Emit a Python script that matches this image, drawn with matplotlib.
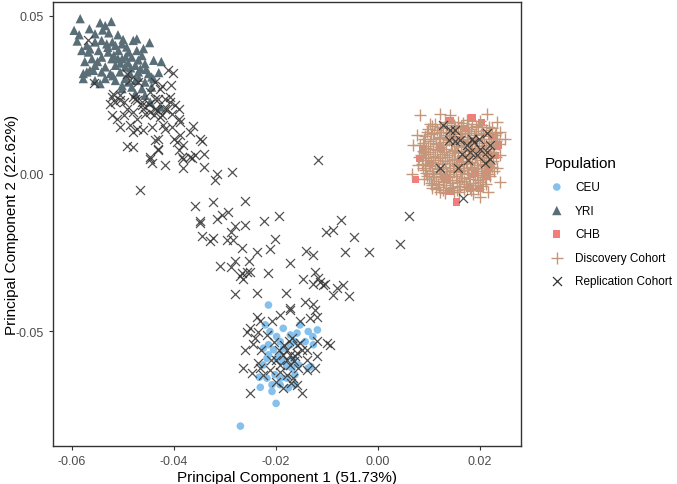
import matplotlib
matplotlib.use("Agg")
import matplotlib.pyplot as plt
import numpy as np

plt.rcParams['font.family'] = ['Liberation Sans', 'DejaVu Sans']

# PCA coordinates (PC1, PC2)
ceu_x = [-0.0215, -0.0153, -0.0137, -0.0119, -0.0128, -0.0127, -0.0143, -0.0159, -0.0172,
         -0.0221, -0.0212, -0.0199, -0.0186, -0.0192, -0.0215, -0.0225, -0.0205, -0.0186,
         -0.0172, -0.0163, -0.0218, -0.0199, -0.0186, -0.0166, -0.0156, -0.0137, -0.0132,
         -0.0233, -0.0218, -0.0202, -0.0192, -0.0179, -0.0163, -0.0163, -0.0176, -0.0192,
         -0.0208, -0.0231, -0.0208, -0.0200, -0.0270, -0.0225, -0.0215, -0.0192, -0.0179,
         -0.0169]
ceu_y = [-0.0417, -0.0480, -0.0501, -0.0496, -0.0517, -0.0543, -0.0533, -0.0506, -0.0512,
         -0.0480, -0.0501, -0.0517, -0.0491, -0.0533, -0.0543, -0.0554, -0.0559, -0.0554,
         -0.0543, -0.0533, -0.0586, -0.0586, -0.0596, -0.0591, -0.0607, -0.0617, -0.0612,
         -0.0646, -0.0649, -0.0638, -0.0649, -0.0649, -0.0638, -0.0670, -0.0680, -0.0670,
         -0.0670, -0.0678, -0.0691, -0.0729, -0.0801, -0.0607, -0.0575, -0.0575, -0.0612,
         -0.0617]

yri_x = [-0.0584, -0.0596, -0.0586, -0.0545, -0.0535, -0.0523, -0.0566, -0.0555, -0.0528,
         -0.0521, -0.0480, -0.0448, -0.0571, -0.0555, -0.0542, -0.0532, -0.0515, -0.0502,
         -0.0493, -0.0581, -0.0568, -0.0548, -0.0529, -0.0509, -0.0489, -0.0473, -0.0460,
         -0.0561, -0.0542, -0.0522, -0.0502, -0.0483, -0.0463, -0.0440, -0.0425, -0.0555,
         -0.0535, -0.0515, -0.0496, -0.0476, -0.0457, -0.0571, -0.0558, -0.0542, -0.0525,
         -0.0506, -0.0486, -0.0470, -0.0450, -0.0578, -0.0555, -0.0535, -0.0515, -0.0496,
         -0.0476, -0.0457, -0.0444, -0.0502, -0.0483, -0.0463, -0.0444, -0.0476, -0.0457,
         -0.0447, -0.0427, -0.0578, -0.0565, -0.0545, -0.0473, -0.0502, -0.0510, -0.0490,
         -0.0466, -0.0590, -0.0575, -0.0565, -0.0550, -0.0530, -0.0518, -0.0505, -0.0495,
         -0.0485, -0.0470, -0.0455, -0.0440, -0.0430, -0.0520, -0.0490, -0.0470, -0.0540,
         -0.0510, -0.0500]
yri_y = [0.0491, 0.0454, 0.0440, 0.0478, 0.0469, 0.0482, 0.0459, 0.0443, 0.0446,
         0.0417, 0.0422, 0.0415, 0.0406, 0.0417, 0.0422, 0.0411, 0.0406, 0.0411,
         0.0401, 0.0390, 0.0385, 0.0390, 0.0385, 0.0390, 0.0385, 0.0390, 0.0396,
         0.0364, 0.0369, 0.0364, 0.0364, 0.0369, 0.0374, 0.0359, 0.0355, 0.0343,
         0.0338, 0.0343, 0.0338, 0.0343, 0.0348, 0.0322, 0.0327, 0.0322, 0.0317,
         0.0322, 0.0317, 0.0322, 0.0317, 0.0301, 0.0295, 0.0301, 0.0295, 0.0301,
         0.0295, 0.0290, 0.0306, 0.0279, 0.0274, 0.0269, 0.0274, 0.0253, 0.0248,
         0.0227, 0.0211, 0.0317, 0.0327, 0.0285, 0.0427, 0.0269, 0.0364, 0.0351,
         0.0332, 0.0420, 0.0355, 0.0395, 0.0355, 0.0400, 0.0375, 0.0350, 0.0370,
         0.0335, 0.0360, 0.0330, 0.0300, 0.0320, 0.0310, 0.0290, 0.0305, 0.0455,
         0.0440, 0.0425]

chb_x = [0.0184, 0.0203, 0.0141, 0.0223, 0.0236, 0.0088, 0.0082, 0.0073, 0.0141, 0.0154,
         0.0180, 0.0214, 0.0216, 0.0229, 0.0122, 0.0161, 0.0190, 0.0131, 0.0102, 0.0171,
         0.0200]
chb_y = [0.0176, 0.0161, 0.0169, 0.0121, 0.0090, 0.0074, 0.0047, -0.0018, -0.0058, -0.0090,
         -0.0047, -0.0005, 0.0021, 0.0058, 0.0079, 0.0047, 0.0000, -0.0016, 0.0032, 0.0142,
         -0.0047]

disc_x = [0.0082, 0.0101, 0.0122, 0.0141, 0.0157, 0.0174, 0.0213, 0.0233, 0.0239, 0.0249,
          0.0239, 0.0233, 0.0239, 0.0216, 0.0200, 0.0180, 0.0148, 0.0122, 0.0105, 0.0089,
          0.0066, 0.0079, 0.0089, 0.0069, 0.0076,
          0.0112, 0.0131, 0.0148, 0.0166, 0.0185, 0.0199,
          0.0098, 0.0115, 0.0128, 0.0142, 0.0157, 0.0170, 0.0183, 0.0196, 0.0211, 0.0224,
          0.0091, 0.0104, 0.0119, 0.0133, 0.0146, 0.0160, 0.0175, 0.0188, 0.0202, 0.0217, 0.0229,
          0.0087, 0.0101, 0.0113, 0.0127, 0.0139, 0.0153, 0.0167, 0.0181, 0.0194, 0.0208, 0.0221,
          0.0232,
          0.0093, 0.0107, 0.0121, 0.0134, 0.0148, 0.0162, 0.0176, 0.0189, 0.0203, 0.0216, 0.0228,
          0.0085, 0.0098, 0.0111, 0.0125, 0.0138, 0.0151, 0.0165, 0.0179, 0.0192, 0.0206, 0.0219,
          0.0091, 0.0104, 0.0118, 0.0131, 0.0144, 0.0158, 0.0172, 0.0185, 0.0199, 0.0212, 0.0226,
          0.0088, 0.0101, 0.0115, 0.0128, 0.0141, 0.0155, 0.0169, 0.0182, 0.0196, 0.0209, 0.0223,
          0.0094, 0.0108, 0.0122, 0.0135, 0.0149, 0.0163, 0.0176, 0.0190, 0.0204, 0.0217,
          0.0099, 0.0113, 0.0127, 0.0140, 0.0154, 0.0168, 0.0181, 0.0195, 0.0209,
          0.0106, 0.0120, 0.0134, 0.0147, 0.0161, 0.0175, 0.0189, 0.0203,
          0.0131, 0.0158, 0.0186,
          0.0105, 0.0121, 0.0136, 0.0150, 0.0163, 0.0177, 0.0191, 0.0204, 0.0218,
          0.0095, 0.0110, 0.0124, 0.0138, 0.0151, 0.0165, 0.0179, 0.0192, 0.0206, 0.0220, 0.0232,
          0.0090, 0.0108, 0.0122, 0.0136, 0.0149, 0.0163, 0.0177, 0.0190, 0.0204, 0.0218, 0.0234,
          0.0082, 0.0097, 0.0114, 0.0128, 0.0142, 0.0155, 0.0169, 0.0183, 0.0197, 0.0211, 0.0225,
          0.0237,
          0.0088, 0.0102, 0.0116, 0.0130, 0.0144, 0.0157, 0.0171, 0.0185, 0.0198, 0.0212, 0.0226,
          0.0080, 0.0094, 0.0108, 0.0122, 0.0135, 0.0149, 0.0162, 0.0176, 0.0189, 0.0203, 0.0216,
          0.0231,
          0.0086, 0.0099, 0.0112, 0.0126, 0.0139, 0.0153, 0.0166, 0.0180, 0.0193, 0.0207, 0.0220,
          0.0091, 0.0105, 0.0119, 0.0133, 0.0146, 0.0160, 0.0174, 0.0187, 0.0201, 0.0214, 0.0228,
          0.0096, 0.0110, 0.0124, 0.0138, 0.0152, 0.0165, 0.0179, 0.0193, 0.0206, 0.0220,
          0.0103, 0.0117, 0.0130, 0.0144, 0.0158, 0.0172, 0.0186, 0.0199, 0.0212,
          0.0113, 0.0127, 0.0141, 0.0155, 0.0169, 0.0182, 0.0196]
disc_y = [0.0187, 0.0158, 0.0190, 0.0185, 0.0164, 0.0169, 0.0190, 0.0164, 0.0132, 0.0111,
          0.0058, 0.0016, -0.0026, -0.0058, -0.0074, -0.0047, -0.0058, -0.0058, -0.0047, -0.0016,
          0.0000, 0.0026, 0.0069, 0.0090, 0.0121,
          0.0158, 0.0163, 0.0155, 0.0161, 0.0157, 0.0166,
          0.0142, 0.0137, 0.0145, 0.0139, 0.0144, 0.0136, 0.0141, 0.0147, 0.0138, 0.0143,
          0.0118, 0.0124, 0.0117, 0.0122, 0.0119, 0.0125, 0.0116, 0.0121, 0.0126, 0.0119, 0.0123,
          0.0098, 0.0103, 0.0097, 0.0101, 0.0105, 0.0096, 0.0102, 0.0099, 0.0104, 0.0097, 0.0101,
          0.0103,
          0.0082, 0.0077, 0.0083, 0.0079, 0.0076, 0.0084, 0.0078, 0.0081, 0.0077, 0.0083, 0.0079,
          0.0058, 0.0063, 0.0057, 0.0062, 0.0059, 0.0064, 0.0056, 0.0061, 0.0058, 0.0063, 0.0060,
          0.0042, 0.0037, 0.0043, 0.0039, 0.0044, 0.0036, 0.0041, 0.0038, 0.0043, 0.0037, 0.0040,
          0.0018, 0.0023, 0.0017, 0.0022, 0.0019, 0.0024, 0.0016, 0.0021, 0.0018, 0.0023, 0.0020,
          0.0002, -0.0003, 0.0003, -0.0001, 0.0004, -0.0002, 0.0001, -0.0004, 0.0002, -0.0001,
          -0.0018, -0.0023, -0.0017, -0.0022, -0.0019, -0.0024, -0.0016, -0.0021, -0.0018,
          -0.0038, -0.0043, -0.0037, -0.0042, -0.0039, -0.0044, -0.0036, -0.0041,
          -0.0063, -0.0059, -0.0066,
          0.0151, 0.0148, 0.0153, 0.0149, 0.0152, 0.0147, 0.0150, 0.0154, 0.0149,
          0.0131, 0.0128, 0.0133, 0.0129, 0.0132, 0.0127, 0.0130, 0.0134, 0.0128, 0.0131, 0.0129,
          0.0111, 0.0108, 0.0113, 0.0109, 0.0112, 0.0107, 0.0110, 0.0114, 0.0108, 0.0111, 0.0109,
          0.0091, 0.0088, 0.0093, 0.0089, 0.0092, 0.0087, 0.0090, 0.0094, 0.0088, 0.0091, 0.0089,
          0.0092,
          0.0071, 0.0068, 0.0073, 0.0069, 0.0072, 0.0067, 0.0070, 0.0074, 0.0068, 0.0071, 0.0069,
          0.0051, 0.0048, 0.0053, 0.0049, 0.0052, 0.0047, 0.0050, 0.0054, 0.0048, 0.0051, 0.0049,
          0.0052,
          0.0031, 0.0028, 0.0033, 0.0029, 0.0032, 0.0027, 0.0030, 0.0034, 0.0028, 0.0031, 0.0029,
          0.0011, 0.0008, 0.0013, 0.0009, 0.0012, 0.0007, 0.0010, 0.0014, 0.0008, 0.0011, 0.0009,
          -0.0009, -0.0012, -0.0007, -0.0011, -0.0008, -0.0013, -0.0010, -0.0006, -0.0012, -0.0009,
          -0.0029, -0.0032, -0.0027, -0.0031, -0.0028, -0.0033, -0.0030, -0.0026, -0.0032,
          -0.0049, -0.0052, -0.0047, -0.0051, -0.0048, -0.0053, -0.0050]

rep_x = [-0.0568, -0.0557, -0.0402, -0.0406, -0.0427, -0.0447, -0.0522, -0.0515, -0.0525,
         -0.0506, -0.0499, -0.0480, -0.0473, -0.0463, -0.0450, -0.0437, -0.0417, -0.0408,
         -0.0398, -0.0391, -0.0414, -0.0493, -0.0480, -0.0460, -0.0447, -0.0434, -0.0522,
         -0.0512, -0.0499, -0.0473, -0.0440, -0.0427, -0.0404, -0.0391, -0.0506, -0.0486,
         -0.0473, -0.0460, -0.0480, -0.0444, -0.0421, -0.0417, -0.0404, -0.0388, -0.0362,
         -0.0368, -0.0431, -0.0437, -0.0401, -0.0395, -0.0388, -0.0382, -0.0349, -0.0346,
         -0.0493, -0.0480, -0.0431, -0.0447, -0.0444, -0.0417, -0.0385, -0.0382, -0.0368,
         -0.0359, -0.0342, -0.0342, -0.0316, -0.0319, -0.0287, -0.0466,
         -0.0493, -0.0486, -0.0470, -0.0437, -0.0424, -0.0411, -0.0408, -0.0431, -0.0417,
         -0.0437, -0.0463, -0.0476, -0.0457, -0.0424, -0.0519, -0.0506,
         -0.0447, -0.0431, -0.0391, -0.0382, -0.0365, -0.0117,
         -0.0359, -0.0324, -0.0261, -0.0349, -0.0349, -0.0315, -0.0306, -0.0295, -0.0280,
         -0.0261, -0.0223, -0.0194, -0.0289, -0.0346, -0.0329, -0.0323, -0.0297, -0.0285,
         -0.0203, -0.0267, -0.0237, -0.0212, -0.0142, -0.0127, -0.0073, -0.0103, -0.0089,
         -0.0048, -0.0065, -0.0018, 0.0043, 0.0061,
         -0.0310, -0.0289, -0.0280, -0.0254, -0.0267, -0.0257, -0.0252, -0.0270, -0.0265,
         -0.0215, -0.0172, -0.0148, -0.0123, -0.0117, -0.0127, -0.0108, -0.0104, -0.0114,
         -0.0081, -0.0068, -0.0280, -0.0237, -0.0180, -0.0088, -0.0058, -0.0172, -0.0143,
         -0.0128,
         -0.0123, -0.0172, -0.0192, -0.0208, -0.0238, -0.0231, -0.0251, -0.0257, -0.0235,
         -0.0218, -0.0205, -0.0261, -0.0264, -0.0248, -0.0231, -0.0225, -0.0212, -0.0192,
         -0.0179, -0.0166, -0.0140, -0.0123, -0.0120, -0.0140, -0.0101, -0.0094, -0.0172,
         -0.0159, -0.0179, -0.0186, -0.0192, -0.0172, -0.0252, -0.0150, -0.0186, -0.0159,
         -0.0179, -0.0163, -0.0153, -0.0133, -0.0120, -0.0241, -0.0169, -0.0153, -0.0200,
         -0.0157, -0.0160, -0.0175, -0.0185, -0.0150, -0.0165, -0.0195, -0.0210, -0.0230,
         -0.0245, -0.0140, -0.0120, -0.0200, -0.0170, -0.0235,
         0.0128, 0.0141, 0.0138, 0.0151, 0.0161, 0.0174, 0.0187, 0.0197, 0.0213, 0.0220,
         0.0180, 0.0193, 0.0177, 0.0157, 0.0122, 0.0213, 0.0220, 0.0167, 0.0151, 0.0184,
         0.0200, 0.0165, 0.0210]
rep_y = [0.0422, 0.0288, 0.0320, 0.0282, 0.0269, 0.0259, 0.0243, 0.0227, 0.0222,
         0.0248, 0.0227, 0.0243, 0.0232, 0.0227, 0.0222, 0.0237, 0.0237, 0.0227,
         0.0216, 0.0206, 0.0206, 0.0206, 0.0195, 0.0206, 0.0195, 0.0200, 0.0185,
         0.0174, 0.0185, 0.0174, 0.0185, 0.0179, 0.0190, 0.0174, 0.0148, 0.0153,
         0.0142, 0.0137, 0.0132, 0.0148, 0.0153, 0.0142, 0.0148, 0.0164, 0.0151,
         0.0132, 0.0111, 0.0105, 0.0111, 0.0100, 0.0121, 0.0090, 0.0111, 0.0102,
         0.0088, 0.0085, 0.0079, 0.0053, 0.0032, 0.0026, 0.0053, 0.0016, 0.0053,
         0.0058, 0.0063, 0.0021, 0.0000, -0.0021, 0.0005, -0.0053,
         0.0317, 0.0295, 0.0290, 0.0290, 0.0279, 0.0327, 0.0243, 0.0237, 0.0206,
         0.0206, 0.0216, 0.0237, 0.0190, 0.0185, 0.0253, 0.0232,
         0.0047, 0.0074, 0.0074, 0.0047, 0.0050, 0.0042,
         -0.0102, -0.0090, -0.0088, -0.0151, -0.0158, -0.0145, -0.0130, -0.0123, -0.0166,
         -0.0164, -0.0151, -0.0134, -0.0185, -0.0197, -0.0214, -0.0206, -0.0211, -0.0211,
         -0.0208, -0.0237, -0.0248, -0.0240, -0.0246, -0.0259, -0.0146, -0.0185, -0.0179,
         -0.0200, -0.0250, -0.0250, -0.0224, -0.0134,
         -0.0292, -0.0295, -0.0278, -0.0279, -0.0317, -0.0311, -0.0313, -0.0324, -0.0335,
         -0.0317, -0.0285, -0.0335, -0.0311, -0.0332, -0.0351, -0.0355, -0.0351, -0.0343,
         -0.0362, -0.0355, -0.0383, -0.0380, -0.0380, -0.0385, -0.0387, -0.0425, -0.0408,
         -0.0415,
         -0.0433, -0.0433, -0.0448, -0.0469, -0.0454, -0.0469, -0.0491, -0.0501, -0.0501,
         -0.0512, -0.0533, -0.0559, -0.0617, -0.0633, -0.0617, -0.0638, -0.0623, -0.0628,
         -0.0638, -0.0649, -0.0623, -0.0617, -0.0580, -0.0559, -0.0538, -0.0543, -0.0575,
         -0.0570, -0.0559, -0.0575, -0.0607, -0.0607, -0.0696, -0.0696, -0.0680, -0.0670,
         -0.0591, -0.0580, -0.0469, -0.0459, -0.0454, -0.0522, -0.0522, -0.0538, -0.0592,
         -0.0617, -0.0545, -0.0530, -0.0545, -0.0560, -0.0595, -0.0560, -0.0590, -0.0560,
         -0.0540, -0.0590, -0.0530, -0.0660, -0.0665, -0.0600,
         0.0153, 0.0137, 0.0105, 0.0102, 0.0105, 0.0090, 0.0100, 0.0111, 0.0127, 0.0090,
         0.0069, 0.0058, 0.0042, 0.0018, 0.0016, 0.0069, 0.0047, -0.0079, 0.0139, 0.0111,
         0.0079, 0.0063, 0.0032]

x_ticks = [-0.06, -0.04, -0.02, 0.00, 0.02]
x_tick_labels = ['-0.06', '-0.04', '-0.02', '0.00', '0.02']
y_ticks = [-0.05, 0.00, 0.05]
y_tick_labels = ['-0.05', '0.00', '0.05']

fig = plt.figure(figsize=(6.77, 4.85), dpi=100)
ax = fig.add_axes([0.0778, 0.0784, 0.6917, 0.9155])

ax.scatter(ceu_x, ceu_y, marker='o', s=30, color='#85C1EC', edgecolors='none',
           label='CEU', zorder=2)
ax.scatter(yri_x, yri_y, marker='^', s=45, color='#5A6E78', edgecolors='none',
           label='YRI', zorder=2)
ax.scatter(chb_x, chb_y, marker='s', s=28, color='#F47C7C', edgecolors='none',
           label='CHB', zorder=2)
ax.scatter(disc_x, disc_y, marker='+', s=75, color='#C4967A', linewidths=1.0,
           label='Discovery Cohort', zorder=3)
ax.scatter(rep_x, rep_y, marker='x', s=42, color='#333333', alpha=0.85, linewidths=0.9,
           label='Replication Cohort', zorder=4)

ax.set_xlim(-0.0638, 0.028)
ax.set_ylim(-0.0864, 0.0544)
ax.set_xticks(x_ticks)
ax.set_xticklabels(x_tick_labels)
ax.set_yticks(y_ticks)
ax.set_yticklabels(y_tick_labels)
ax.tick_params(axis='both', colors='#333333', labelcolor='#4D4D4D', labelsize=9,
               length=3, width=0.8)
for spine in ax.spines.values():
    spine.set_color('#333333')
    spine.set_linewidth(1.0)

ax.set_xlabel('Principal Component 1 (51.73%)', fontsize=11, labelpad=2)
ax.set_ylabel('Principal Component 2 (22.62%)', fontsize=11)
ax.yaxis.set_label_coords(-0.072, 0.5)

leg = ax.legend(loc='upper left', bbox_to_anchor=(0.798, 0.687),
                bbox_transform=fig.transFigure, frameon=False, title='Population',
                title_fontsize=11, fontsize=8.5, labelspacing=0.98, handletextpad=0.55,
                borderaxespad=0, alignment='left')
for h in leg.legend_handles:
    h.set_alpha(1)

fig.savefig('out.png', dpi=100)
